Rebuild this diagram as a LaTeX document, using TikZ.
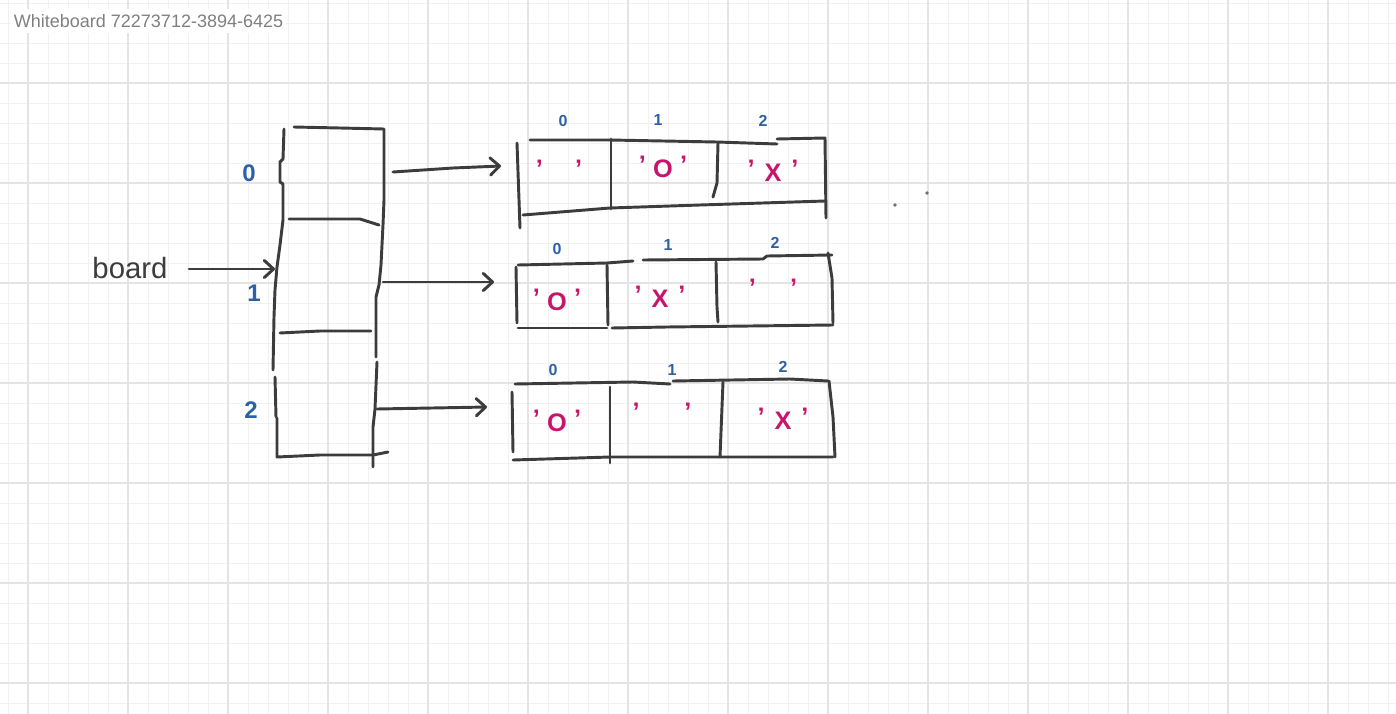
\documentclass[tikz,border=0pt]{standalone}
\usepackage{fontspec}
\setmainfont{Liberation Sans}
\usetikzlibrary{arrows.meta}
\definecolor{gridminc}{HTML}{F1F1F1}
\definecolor{gridmajc}{HTML}{E4E4E4}
\definecolor{inkc}{HTML}{3C3C3C}
\definecolor{bluec}{HTML}{2B62A6}
\definecolor{pinkc}{HTML}{C8156B}
\definecolor{titlec}{HTML}{808080}
\definecolor{dotc}{HTML}{6E6E6E}
\newcommand{\qmk}{\raisebox{3pt}{'}}
\newcommand{\cellq}[2]{\qmk\hspace{#2}#1\hspace{#2}\qmk}
\begin{document}
\begin{tikzpicture}[x=0.75pt,y=-0.75pt,
  ink/.style={draw=inkc,line width=2.2pt,line cap=round,line join=round},
  arr/.style={ink,-{Straight Barb[length=7pt,width=13pt,line cap=round,round]}},
  gmin/.style={draw=gridminc,line width=0.75pt},
  gmaj/.style={draw=gridmajc,line width=1pt},
  rowlab/.style={text=bluec,font=\fontsize{18}{18}\selectfont\bfseries,inner sep=0pt},
  idx/.style={text=bluec,font=\fontsize{12}{12}\selectfont\bfseries,inner sep=0pt},
  cellt/.style={text=pinkc,font=\fontsize{19}{19}\selectfont\bfseries,inner sep=0pt,anchor=base},
  lbl/.style={text=inkc,font=\fontsize{22}{22}\selectfont,inner sep=0pt}]
\useasboundingbox (0,0) rectangle (1396,714);
\fill[white] (0,0) rectangle (1396,714);
% grid
\foreach \x in {8,28,...,1388} \draw[gmin] (\x,0) -- (\x,714);
\foreach \y in {3,23,...,713} \draw[gmin] (0,\y) -- (1396,\y);
\foreach \x in {28,128,...,1328} \draw[gmaj] (\x,0) -- (\x,714);
\foreach \y in {83,183,...,683} \draw[gmaj] (0,\y) -- (1396,\y);
% title
\node[anchor=base west,text=titlec,font=\fontsize{13.5}{16}\selectfont,fill=white,inner xsep=2pt,inner ysep=4pt] (title) at (11,27) {Whiteboard 72273712-3894-6425};

% left column (board)
\draw[ink] (294,127) -- (340,128) -- (384,129) -- (384,200) -- (383,225) -- (381,265) -- (379,285) -- (376,297) -- (376,357);
\draw[ink] (377,362) -- (375,409) -- (373,427) -- (373,467);
\draw[ink] (284,129) -- (283,159) -- (280,162) -- (280,182) -- (283,184) -- (283,220) -- (280,245) -- (277,267) -- (275,290) -- (274,317) -- (273,370);
\draw[ink] (275,377) -- (276,417);
\draw[ink] (277,418) -- (277,457) -- (320,455) -- (373,455) -- (388,452);
\draw[ink] (289,219) -- (360,219) -- (379,225);
\draw[ink] (280,333) -- (320,331) -- (371,331);
\node[rowlab] (r0) at (249,173) {0};
\node[rowlab] (r1) at (254,293) {1};
\node[rowlab] (r2) at (251,410) {2};

% board label and arrow
\node[lbl] (board) at (130,268) {board};
\coordinate (bs) at (189,269);
\coordinate (be) at (275,269);
\draw[arr] (bs) -- (be);

% array 1
\draw[ink] (530,140) -- (610,140) -- (717,142) -- (777,144);
\draw[ink] (777,139) -- (825,138) -- (826,218);
\draw[ink] (523,215) -- (610,208) -- (700,205) -- (825,201);
\draw[ink] (517,143) -- (520,228);
\draw[ink] (611,139) -- (611,209);
\draw[ink] (718,143) -- (717,183) -- (713,197);
\node[idx] (i10) at (563,121) {0};
\node[idx] (i11) at (658,120) {1};
\node[idx] (i12) at (763,121) {2};
\node[cellt] (c10) at (559,181) {\qmk\hspace{24pt}\qmk};
\node[cellt] (c11) at (663,177) {\cellq{O}{5.4pt}};
\node[cellt] (c12) at (773,181) {\cellq{X}{7.4pt}};

% array 2
\draw[ink] (518,265) -- (607,263) -- (633,261);
\draw[ink] (643,260) -- (763,259) -- (767,256) -- (832,255);
\draw[ink] (828,253) -- (832,278) -- (833,323);
\draw[ink] (516,267) -- (517,323);
\draw[ink] (518,328) -- (607,328);
\draw[ink] (612,328) -- (667,327) -- (833,325);
\draw[ink] (607,265) -- (608,325);
\draw[ink] (716,262) -- (717,307) -- (718,322);
\node[idx] (i20) at (557,249) {0};
\node[idx] (i21) at (668,245) {1};
\node[idx] (i22) at (775,243) {2};
\node[cellt] (c20) at (557,310) {\cellq{O}{5.4pt}};
\node[cellt] (c21) at (660,307) {\cellq{X}{7.4pt}};
\node[cellt] (c22) at (773,300) {\qmk\hspace{25.5pt}\qmk};

% array 3
\draw[ink] (515,384) -- (633,382) -- (670,384);
\draw[ink] (673,381) -- (790,379) -- (828,381);
\draw[ink] (829,381) -- (833,417) -- (835,457);
\draw[ink] (512,392) -- (513,452);
\draw[ink] (513,460) -- (610,457) -- (833,457);
\draw[ink] (610,387) -- (610,463);
\draw[ink] (723,382) -- (720,457);
\node[idx] (i30) at (553,370) {0};
\node[idx] (i31) at (672,370) {1};
\node[idx] (i32) at (783,367) {2};
\node[cellt] (c30) at (557,431) {\cellq{O}{5.4pt}};
\node[cellt] (c31) at (662,424) {\qmk\hspace{33.5pt}\qmk};
\node[cellt] (c32) at (783,429) {\cellq{X}{7.4pt}};

% arrows to arrays
\coordinate (a1s) at (393,172);
\coordinate (a1m) at (453,168);
\coordinate (a1e) at (501,166);
\draw[arr] (a1s) -- (a1m) -- (a1e);
\coordinate (a2s) at (383,282);
\coordinate (a2e) at (494,282);
\draw[arr] (a2s) -- (a2e);
\coordinate (a3s) at (377,409);
\coordinate (a3e) at (487,407);
\draw[arr] (a3s) -- (a3e);

% stray dots
\fill[dotc] (895,205) circle (1.8);
\fill[dotc] (927,193) circle (1.8);
\end{tikzpicture}
\end{document}
